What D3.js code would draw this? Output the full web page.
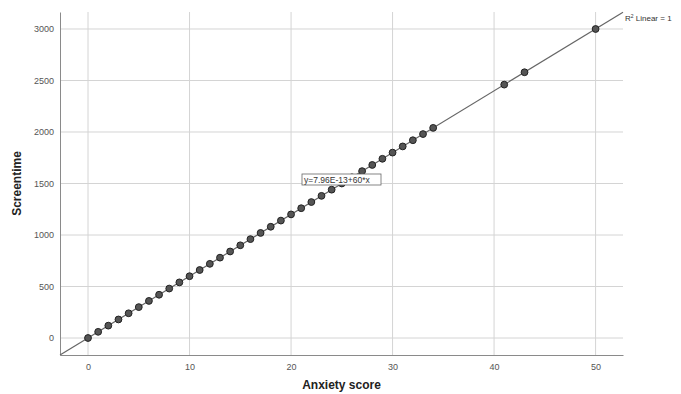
<!DOCTYPE html>
<html>
<head>
<meta charset="utf-8">
<script src="https://cdn.jsdelivr.net/npm/d3@7"></script>
<style>
  body { margin: 0; background: #fff; }
  svg { font-family: Arial, "Liberation Sans", sans-serif; }
</style>
</head>
<body>
<div id="chart"></div>
<script>
// data: anxiety score vs screentime (every point lies on y = 60x)
var anxiety = [0,1,2,3,4,5,6,7,8,9,10,11,12,13,14,15,16,17,18,19,20,21,22,23,24,25,26,27,28,29,30,31,32,33,34,41,43,50];
var screentime = [0,60,120,180,240,300,360,420,480,540,600,660,720,780,840,900,960,1020,1080,1140,1200,1260,1320,1380,1440,1500,1560,1620,1680,1740,1800,1860,1920,1980,2040,2460,2580,3000];
var xTicks = [0,10,20,30,40,50];
var yTicks = [0,500,1000,1500,2000,2500,3000];
var fitIntercept = 7.96e-13, fitSlope = 60;

var svgWidth = 681, svgHeight = 394;
// plot area edges (window.top is read-only, so no "top" here)
var plotL = 60, plotR = 623, plotT = 12, plotB = 355;

var svg = d3.select("#chart").append("svg")
  .attr("width", svgWidth)
  .attr("height", svgHeight);

var x = d3.scaleLinear().domain([-2.76, 52.7]).range([plotL, plotR]);
var y = d3.scaleLinear().domain([-165, 3165]).range([plotB, plotT]);

// grid
svg.append("g").selectAll("line").data(xTicks).enter().append("line")
  .attr("x1", function(d) { return x(d); })
  .attr("x2", function(d) { return x(d); })
  .attr("y1", plotT).attr("y2", plotB)
  .attr("stroke", "#d4d4d4").attr("stroke-width", 1);

svg.append("g").selectAll("line").data(yTicks).enter().append("line")
  .attr("x1", plotL).attr("x2", plotR)
  .attr("y1", function(d) { return y(d); })
  .attr("y2", function(d) { return y(d); })
  .attr("stroke", "#d4d4d4").attr("stroke-width", 1);

// axes
var xAxis = d3.axisBottom(x).tickValues(xTicks).tickSize(0).tickPadding(9).tickFormat(d3.format("d"));
var yAxis = d3.axisLeft(y).tickValues(yTicks).tickSize(0).tickPadding(6).tickFormat(d3.format("d"));

var gx = svg.append("g").attr("transform", "translate(0," + plotB + ")").call(xAxis);
var gy = svg.append("g").attr("transform", "translate(" + plotL + ",0)").call(yAxis);
[gx, gy].forEach(function(g) {
  g.select(".domain").attr("stroke", "#8a8a8a");
  g.selectAll("text").attr("fill", "#555").attr("font-size", 9)
    .attr("font-family", "Arial, 'Liberation Sans', sans-serif");
});

// fit line
var xd = x.domain();
svg.append("line")
  .attr("x1", x(xd[0])).attr("y1", y(fitIntercept + fitSlope * xd[0]))
  .attr("x2", x(xd[1])).attr("y2", y(fitIntercept + fitSlope * xd[1]))
  .attr("stroke", "#666").attr("stroke-width", 1.2);

// points
svg.append("g").selectAll("circle").data(anxiety).enter().append("circle")
  .attr("cx", function(d) { return x(d); })
  .attr("cy", function(d, i) { return y(screentime[i]); })
  .attr("r", 3.4)
  .attr("fill", "#555")
  .attr("stroke", "#222").attr("stroke-width", 1);

// equation label
var eq = svg.append("g").attr("transform", "translate(302,174)");
eq.append("rect").attr("width", 79).attr("height", 11)
  .attr("fill", "#fff").attr("stroke", "#666").attr("stroke-width", 0.8);
eq.append("text").attr("x", 2).attr("y", 8.5)
  .attr("font-size", 8.5).attr("fill", "#333")
  .text("y=7.96E-13+60*x");

// R2 label
var r2 = svg.append("text").attr("x", 625).attr("y", 21)
  .attr("font-size", 8).attr("fill", "#333");
r2.append("tspan").text("R");
r2.append("tspan").attr("dy", -3).attr("font-size", 5).text("2");
r2.append("tspan").attr("dy", 3).text(" Linear = 1");

// axis titles
svg.append("text")
  .attr("x", (plotL + plotR) / 2).attr("y", 389)
  .attr("text-anchor", "middle")
  .attr("font-size", 12).attr("font-weight", "bold").attr("fill", "#222")
  .text("Anxiety score");

svg.append("text")
  .attr("transform", "translate(21," + ((plotT + plotB) / 2) + ")rotate(-90)")
  .attr("text-anchor", "middle")
  .attr("font-size", 12).attr("font-weight", "bold").attr("fill", "#222")
  .text("Screentime");
</script>
</body>
</html>
